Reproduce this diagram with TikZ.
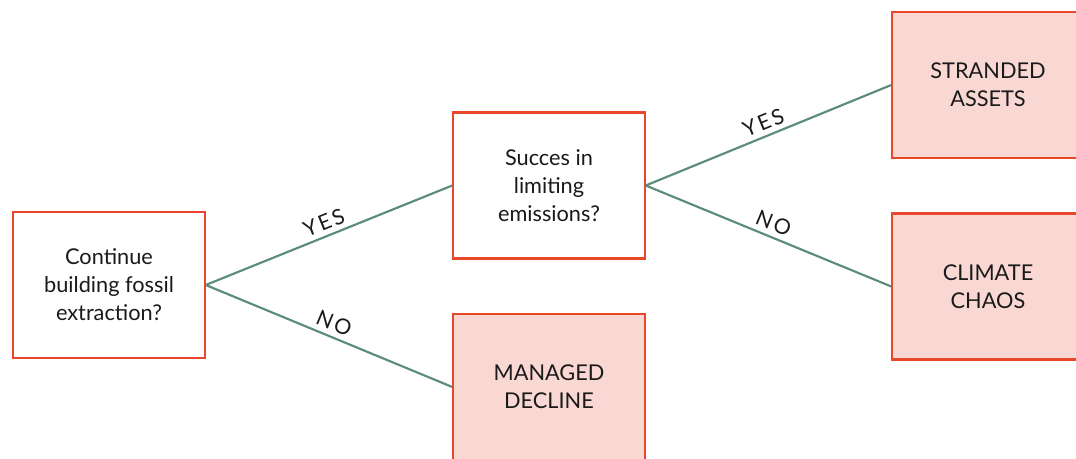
\documentclass[tikz,border=0pt]{standalone}
\usepackage{fontspec}
\setmainfont{Lato}
\definecolor{boxred}{HTML}{E9472B}
\definecolor{boxpink}{HTML}{F9D8D4}
\definecolor{branchgreen}{HTML}{5B8C7A}
\definecolor{inkgrey}{HTML}{1A1A1A}

\begin{document}
\begin{tikzpicture}[x=0.75pt,y=-0.75pt,
    question/.style={draw=boxred,line width=1.6pt,fill=white,
      minimum width=143.5pt,minimum height=109.5pt,align=center,
      text=inkgrey,font=\fontsize{16.3}{21}\selectfont},
    outcome/.style={question,fill=boxpink},
    answer/.style={above,sloped,text=inkgrey,inner sep=3.5pt,
      font=\fontsize{16}{18}\selectfont\addfontfeature{LetterSpace=12}}]
  \useasboundingbox (0,0) rectangle (1076,459);
  \clip (0,0) rectangle (1076,459);
  \node[question] (fossil)   at (109,285)   {Continue\\building fossil\\extraction?};
  \node[question] (limit)    at (549,185.5) {Succes in\\limiting\\emissions?};
  \node[outcome]  (managed)  at (549,387)   {MANAGED\\DECLINE};
  \node[outcome]  (stranded) at (988,85)    {STRANDED\\ASSETS};
  \node[outcome]  (chaos)    at (988,286.5) {CLIMATE\\CHAOS};
  \path[draw=branchgreen,line width=1.6pt]
    (fossil.east) edge node [answer] {YES} (limit.west)
    (fossil.east) edge node [answer] {NO}  (managed.west)
    (limit.east)  edge node [answer] {YES} (stranded.west)
    (limit.east)  edge node [answer] {NO}  (chaos.west);
\end{tikzpicture}
\end{document}
